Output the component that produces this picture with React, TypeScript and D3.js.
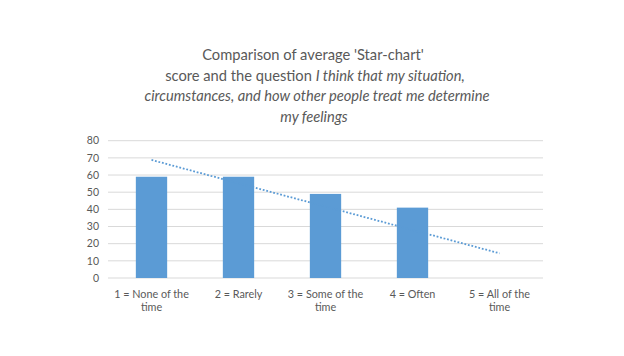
import React from "react";
import * as d3 from "d3";

const categories = ["1 = None of the time", "2 = Rarely", "3 = Some of the time", "4 = Often", "5 = All of the time"];
const scores = [59, 59, 49, 41, 0];
const yTicks = [0, 10, 20, 30, 40, 50, 60, 70, 80];
const titleLine1 = "Comparison of average 'Star-chart'";
const titleLine2Plain = "score and the question ";
const titleLine2Italic = "I think that my situation,";
const titleLine3 = "circumstances, and how other people treat me determine";
const titleLine4 = "my feelings";

const W = 624, H = 356;
const FONT = "Lato, 'Open Sans', sans-serif";
const TEXT = "#595959";
const BLUE = "#5B9BD5";

function wrap(label: string, maxW: number, fontSize: number): string[] {
  const c = document.createElement("canvas").getContext("2d")!;
  c.font = `${fontSize}px ${FONT}`;
  const words = label.split(" ");
  const lines: string[] = [];
  let cur = "";
  for (const w of words) {
    const t = cur ? cur + " " + w : w;
    if (c.measureText(t).width > maxW && cur) {
      lines.push(cur);
      cur = w;
    } else cur = t;
  }
  if (cur) lines.push(cur);
  return lines;
}

export default function App() {
  const left = 108, right = 543, top = 140.7, bottom = 278;
  const x = d3.scaleBand<string>().domain(categories).range([left, right]).paddingInner(0.64).paddingOuter(0.32);
  const y = d3.scaleLinear().domain([0, 80]).range([bottom, top]);
  const bw = x.bandwidth();

  // linear trendline (least squares over category index)
  const idx = scores.map((_, i) => i + 1);
  const mx = d3.mean(idx)!, my = d3.mean(scores)!;
  const slope = d3.sum(idx.map((v, i) => (v - mx) * (scores[i] - my))) / d3.sum(idx.map(v => (v - mx) ** 2));
  const icpt = my - slope * mx;
  const trendPts: [number, number][] = [1, categories.length].map(v => [x(categories[v - 1])! + bw / 2, y(icpt + slope * v)]);
  const line = d3.line();
  const labelSize = 10.8;

  return (
    <svg width={W} height={H} style={{ position: "absolute", left: 0, top: 0, background: "#fff" }} fontFamily={FONT}>
      <rect width={W} height={H} fill="#fff" />
      <text textAnchor="middle" fill={TEXT} fontSize={14.7}>
        <tspan x={W / 2 + 1} y={60}>{titleLine1}</tspan>
        <tspan x={W / 2 + 3} y={80.5}>{titleLine2Plain}<tspan fontStyle="italic">{titleLine2Italic}</tspan></tspan>
        <tspan x={W / 2 + 5} y={101} fontStyle="italic">{titleLine3}</tspan>
        <tspan x={W / 2 + 2} y={121.5} fontStyle="italic">{titleLine4}</tspan>
      </text>
      {yTicks.map(t => (
        <g key={t}>
          <line x1={left} x2={right} y1={y(t)} y2={y(t)} stroke="#D9D9D9" strokeWidth={1} />
          <text x={99} y={y(t)} dy="0.35em" textAnchor="end" fill={TEXT} fontSize={10.5}>{t}</text>
        </g>
      ))}
      {categories.map((c, i) => (
        <rect key={c} x={x(c)!} y={y(scores[i])} width={bw} height={y(0) - y(scores[i])} fill={BLUE} />
      ))}
      <path d={line(trendPts)!} stroke={BLUE} strokeWidth={1.8} strokeDasharray="1.8 1.8" fill="none" />
      {categories.map(c => {
        const lines = wrap(c, 82, labelSize);
        const cx = x(c)! + bw / 2;
        return (
          <text key={c} textAnchor="middle" fill={TEXT} fontSize={labelSize}>
            {lines.map((l, j) => (
              <tspan key={j} x={cx} y={297.5 + j * 13.5}>{l}</tspan>
            ))}
          </text>
        );
      })}
    </svg>
  );
}
